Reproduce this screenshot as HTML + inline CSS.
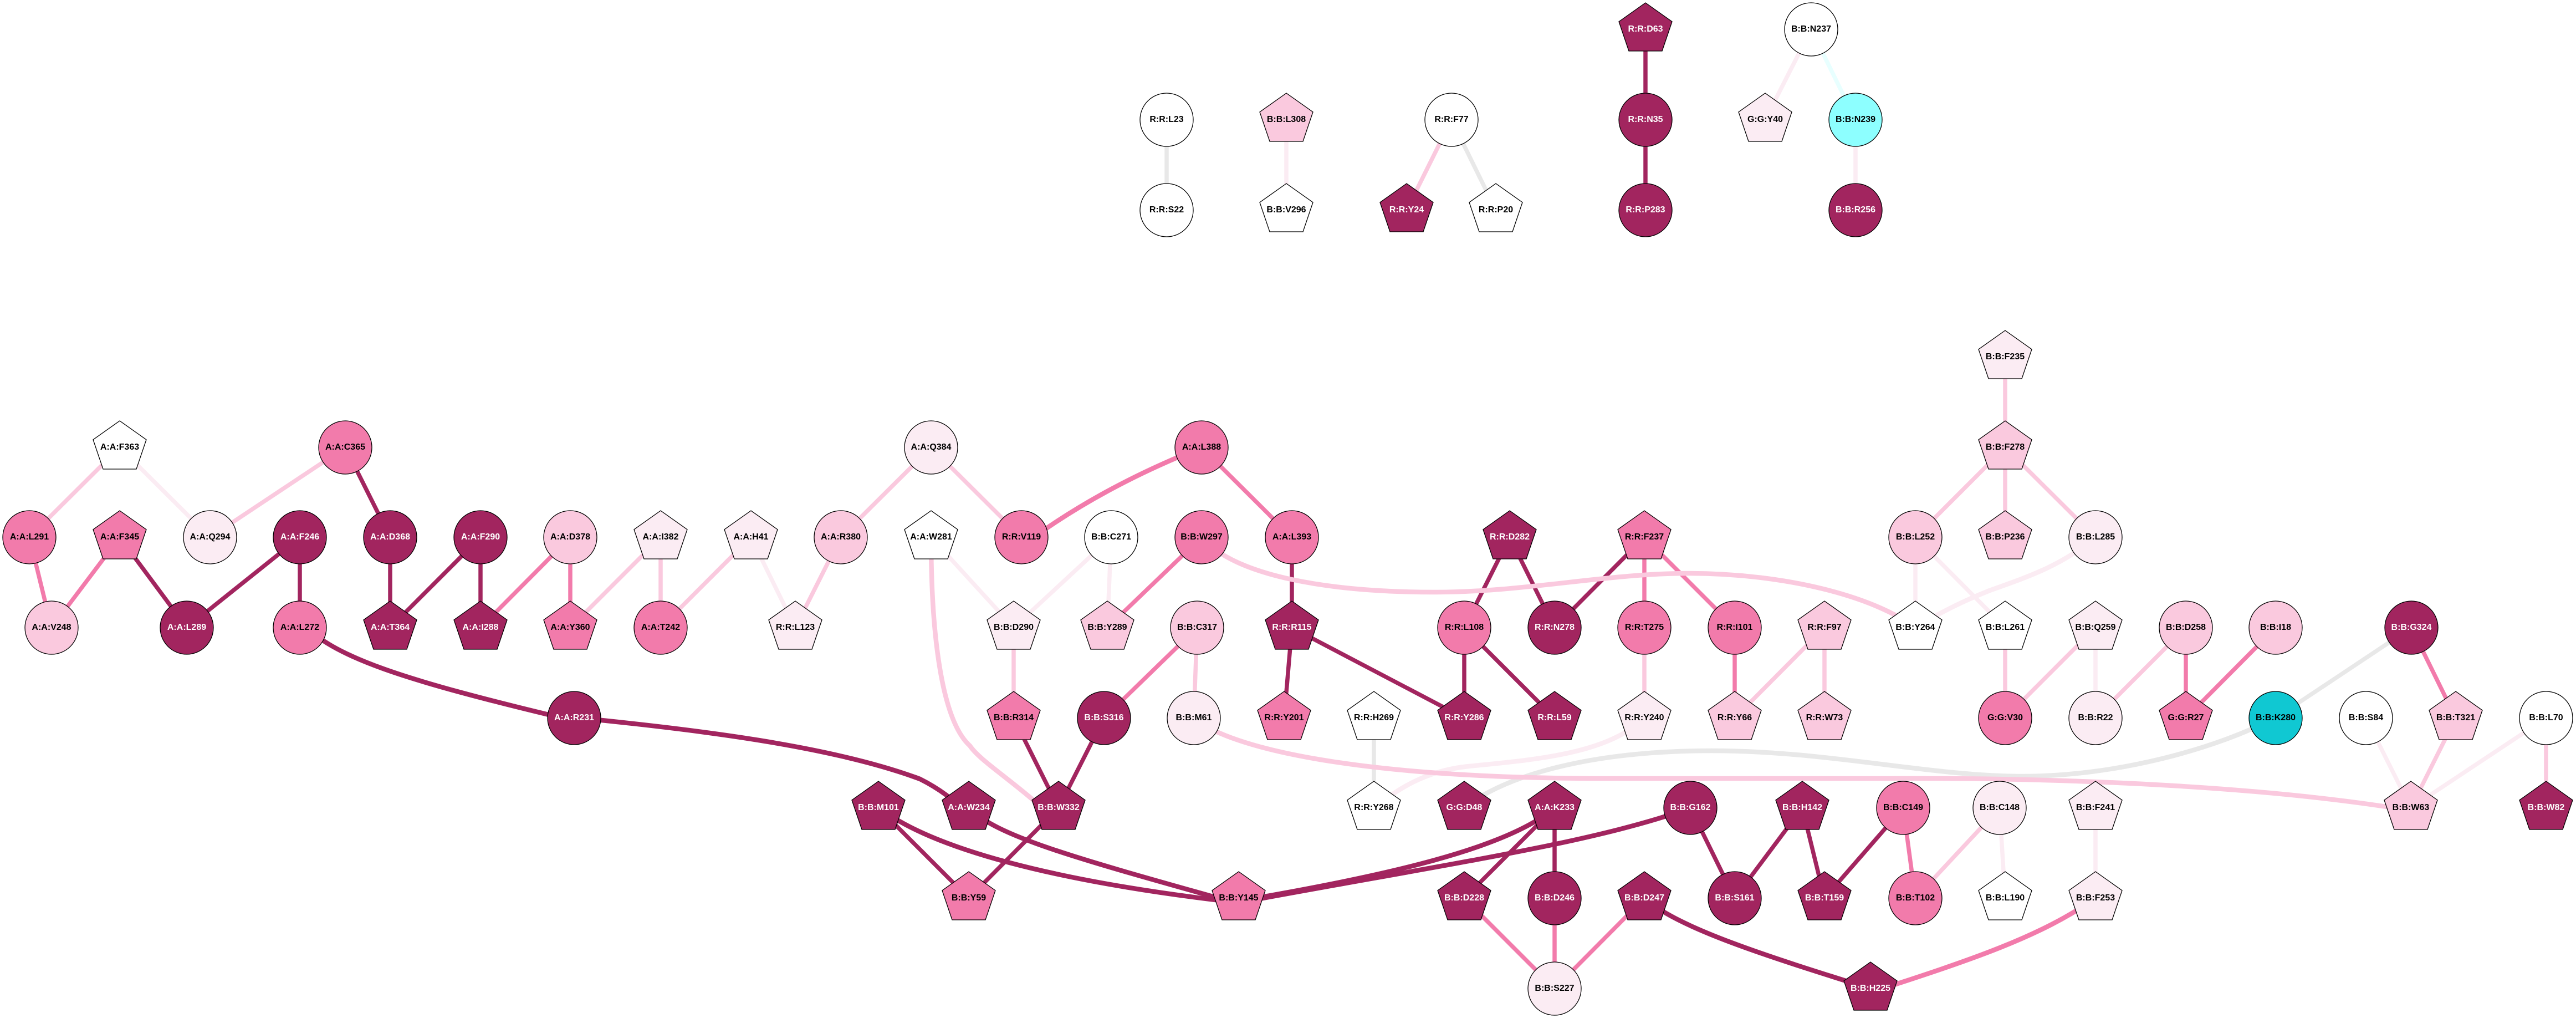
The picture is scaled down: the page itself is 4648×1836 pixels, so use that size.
<!DOCTYPE html>
<html><head><meta charset="utf-8"><style>
html,body{margin:0;padding:0;background:#fff}
svg{display:block}
path{fill:none;stroke-width:7.5}
path[d*="C"]{stroke-width:8.5}
.d{stroke:#a2255f}.m{stroke:#f27bab}.l{stroke:#fac9de}.v{stroke:#fbecf3}.g{stroke:#e8e8e8}.c{stroke:#e8ffff}
use{stroke:#000;stroke-width:1.3}
text{font:bold 16px "Liberation Sans",Arial,sans-serif;text-anchor:middle;fill:#000}
text.w{fill:#fff}
</style></head><body>
<svg width="4648" height="1836" viewBox="0 0 4648 1836" xmlns="http://www.w3.org/2000/svg">
<defs>
<polygon id="p" points="0,-48 48,-14 30,39 -30,39 -48,-14"/>
<circle id="e" r="48"/>
</defs>
<rect width="4648" height="1836" fill="#fff"/>
<!-- edges -->
<path class="g" d="M2105 216L2105 379"/>
<path class="v" d="M2321 216L2321 379"/>
<path class="l" d="M2619 216L2538 379"/>
<path class="g" d="M2619 216L2699 379"/>
<path class="d" d="M2969 53L2969 216"/>
<path class="d" d="M2969 216L2969 379"/>
<path class="v" d="M3268 53L3185 216"/>
<path class="c" d="M3268 53L3348 216"/>
<path class="v" d="M3348 216L3348 379"/>
<path class="l" d="M216 807L53 969"/>
<path class="v" d="M216 807L379 969"/>
<path class="l" d="M623 807L379 969"/>
<path class="d" d="M623 807L704 969"/>
<path class="m" d="M53 969L93 1132"/>
<path class="m" d="M216 969L93 1132"/>
<path class="d" d="M216 969L337 1132"/>
<path class="d" d="M541 969L337 1132"/>
<path class="d" d="M541 969L541 1132"/>
<path class="d" d="M704 969L704 1132"/>
<path class="d" d="M867 969L704 1132"/>
<path class="d" d="M867 969L867 1132"/>
<path class="m" d="M1029 969L867 1132"/>
<path class="m" d="M1029 969L1029 1132"/>
<path class="l" d="M1192 969L1029 1132"/>
<path class="l" d="M1192 969L1192 1132"/>
<path class="l" d="M1355 969L1192 1132"/>
<path class="v" d="M1355 969L1435 1132"/>
<path class="l" d="M1517 969L1435 1132"/>
<path class="l" d="M1680 807L1517 969"/>
<path class="l" d="M1680 807L1843 969"/>
<path class="m" d="M2168 807C2060 850 1950 905 1843 985"/>
<path class="m" d="M2168 807L2331 969"/>
<path class="d" d="M2331 969L2331 1132"/>
<path class="v" d="M1680 969L1829 1132"/>
<path class="v" d="M2005 969L1829 1132"/>
<path class="v" d="M2005 969L1998 1132"/>
<path class="m" d="M2168 969L1998 1132"/>
<path class="l" d="M1829 1132L1829 1295"/>
<path class="d" d="M1829 1295L1910 1457"/>
<path class="d" d="M1992 1295L1910 1457"/>
<path class="m" d="M2160 1132L1992 1295"/>
<path class="l" d="M2160 1132L2154 1295"/>
<path class="d" d="M2331 1132L2317 1295"/>
<path class="d" d="M2331 1132L2642 1295"/>
<path class="d" d="M2642 1132L2642 1295"/>
<path class="d" d="M2642 1132L2805 1295"/>
<path class="d" d="M2724 969L2642 1132"/>
<path class="d" d="M2724 969L2805 1132"/>
<path class="d" d="M2967 969L2805 1132"/>
<path class="m" d="M2967 969L2967 1132"/>
<path class="m" d="M2967 969L3130 1132"/>
<path class="l" d="M2967 1132L2967 1295"/>
<path class="m" d="M3130 1132L3130 1295"/>
<path class="l" d="M3292 1132L3130 1295"/>
<path class="l" d="M3292 1132L3292 1295"/>
<path class="g" d="M2479 1295L2479 1457"/>
<path class="v" d="M2967 1295C2900 1360 2770 1370 2650 1382C2570 1390 2520 1425 2479 1457"/>
<path class="l" d="M2168 969C2230 1040 2400 1068 2590 1068C2750 1068 2900 1034 3046 1034C3220 1034 3380 1075 3456 1132"/>
<path class="v" d="M3456 969L3456 1132"/>
<path class="v" d="M3456 969L3618 1132"/>
<path class="l" d="M3618 807L3456 969"/>
<path class="l" d="M3618 807L3618 969"/>
<path class="l" d="M3618 807L3781 969"/>
<path class="l" d="M3618 644L3618 807"/>
<path class="v" d="M3781 969C3720 1020 3660 1040 3590 1065C3540 1085 3500 1105 3456 1132"/>
<path class="l" d="M3618 1132L3618 1295"/>
<path class="l" d="M3781 1132L3618 1295"/>
<path class="v" d="M3781 1132L3781 1295"/>
<path class="l" d="M3944 1132L3781 1295"/>
<path class="m" d="M3944 1132L3944 1295"/>
<path class="m" d="M4106 1132L3944 1295"/>
<path class="g" d="M4351 1132L4106 1295"/>
<path class="m" d="M4351 1132L4431 1295"/>
<path class="g" d="M2642 1457C2720 1395 2880 1354 3088 1354C3300 1354 3480 1400 3650 1400C3820 1400 4000 1350 4106 1294"/>
<path class="l" d="M4431 1295L4350 1457"/>
<path class="v" d="M4269 1295L4350 1457"/>
<path class="v" d="M4594 1295L4350 1457"/>
<path class="l" d="M4594 1295L4594 1457"/>
<path class="l" d="M2154 1295C2220 1350 2450 1404 2900 1404L3400 1404C3750 1402 4100 1420 4350 1462"/>
<path class="d" d="M541 1120C600 1185 720 1225 1036 1300"/>
<path class="d" d="M1036 1294C1250 1315 1500 1345 1660 1405C1690 1420 1720 1440 1748 1470"/>
<path class="d" d="M1748 1457C1800 1510 1950 1550 2235 1630"/>
<path class="d" d="M1585 1456C1680 1530 1900 1590 2235 1628"/>
<path class="d" d="M1585 1457L1748 1620"/>
<path class="d" d="M1910 1457L1748 1620"/>
<path class="l" d="M1680 969C1680 1150 1700 1300 1750 1345C1770 1375 1840 1415 1910 1485"/>
<path class="d" d="M3050 1457C2880 1520 2600 1560 2235 1628"/>
<path class="d" d="M2805 1457C2720 1530 2500 1580 2235 1625"/>
<path class="d" d="M2805 1457L2642 1620"/>
<path class="d" d="M2805 1457L2805 1620"/>
<path class="d" d="M3050 1457L3130 1620"/>
<path class="d" d="M3252 1457L3130 1620"/>
<path class="d" d="M3252 1457L3292 1620"/>
<path class="d" d="M3434 1457L3292 1620"/>
<path class="m" d="M3434 1457L3456 1620"/>
<path class="l" d="M3608 1457L3456 1620"/>
<path class="v" d="M3608 1457L3618 1620"/>
<path class="v" d="M3781 1457L3781 1620"/>
<path class="m" d="M3781 1620C3680 1690 3560 1730 3375 1790"/>
<path class="d" d="M2967 1620C3030 1675 3190 1725 3375 1783"/>
<path class="m" d="M2642 1620L2805 1783"/>
<path class="m" d="M2805 1620L2805 1783"/>
<path class="m" d="M2967 1620L2805 1783"/>
<!-- nodes -->
<use href="#e" x="2105" y="216" fill="#fff"/><text x="2105" y="220">R:R:L23</text>
<use href="#e" x="2105" y="379" fill="#fff"/><text x="2105" y="383">R:R:S22</text>
<use href="#p" x="2321" y="216" fill="#fac9de"/><text x="2321" y="220">B:B:L308</text>
<use href="#p" x="2321" y="379" fill="#fff"/><text x="2321" y="383">B:B:V296</text>
<use href="#e" x="2619" y="216" fill="#fff"/><text x="2619" y="220">R:R:F77</text>
<use href="#p" x="2538" y="379" fill="#a2255f"/><text class="w" x="2538" y="383">R:R:Y24</text>
<use href="#p" x="2699" y="379" fill="#fff"/><text x="2699" y="383">R:R:P20</text>
<use href="#p" x="2969" y="53" fill="#a2255f"/><text class="w" x="2969" y="57">R:R:D63</text>
<use href="#e" x="2969" y="216" fill="#a2255f"/><text class="w" x="2969" y="220">R:R:N35</text>
<use href="#e" x="2969" y="379" fill="#a2255f"/><text class="w" x="2969" y="383">R:R:P283</text>
<use href="#e" x="3268" y="53" fill="#fff"/><text x="3268" y="57">B:B:N237</text>
<use href="#p" x="3185" y="216" fill="#fbecf3"/><text x="3185" y="220">G:G:Y40</text>
<use href="#e" x="3348" y="216" fill="#8dffff"/><text x="3348" y="220">B:B:N239</text>
<use href="#e" x="3348" y="379" fill="#a2255f"/><text class="w" x="3348" y="383">B:B:R256</text>

<use href="#p" x="216" y="807" fill="#fff"/><text x="216" y="811">A:A:F363</text>
<use href="#e" x="623" y="807" fill="#f27bab"/><text x="623" y="811">A:A:C365</text>
<use href="#e" x="1680" y="807" fill="#fbecf3"/><text x="1680" y="811">A:A:Q384</text>
<use href="#e" x="2168" y="807" fill="#f27bab"/><text x="2168" y="811">A:A:L388</text>
<use href="#p" x="3618" y="644" fill="#fbecf3"/><text x="3618" y="648">B:B:F235</text>
<use href="#p" x="3618" y="807" fill="#fac9de"/><text x="3618" y="811">B:B:F278</text>

<use href="#e" x="53" y="969" fill="#f27bab"/><text x="53" y="973">A:A:L291</text>
<use href="#p" x="216" y="969" fill="#f27bab"/><text x="216" y="973">A:A:F345</text>
<use href="#e" x="379" y="969" fill="#fbecf3"/><text x="379" y="973">A:A:Q294</text>
<use href="#e" x="541" y="969" fill="#a2255f"/><text class="w" x="541" y="973">A:A:F246</text>
<use href="#e" x="704" y="969" fill="#a2255f"/><text class="w" x="704" y="973">A:A:D368</text>
<use href="#e" x="867" y="969" fill="#a2255f"/><text class="w" x="867" y="973">A:A:F290</text>
<use href="#e" x="1029" y="969" fill="#fac9de"/><text x="1029" y="973">A:A:D378</text>
<use href="#p" x="1192" y="969" fill="#fbecf3"/><text x="1192" y="973">A:A:I382</text>
<use href="#p" x="1355" y="969" fill="#fbecf3"/><text x="1355" y="973">A:A:H41</text>
<use href="#e" x="1517" y="969" fill="#fac9de"/><text x="1517" y="973">A:A:R380</text>
<use href="#p" x="1680" y="969" fill="#fff"/><text x="1680" y="973">A:A:W281</text>
<use href="#e" x="1843" y="969" fill="#f27bab"/><text x="1843" y="973">R:R:V119</text>
<use href="#e" x="2005" y="969" fill="#fff"/><text x="2005" y="973">B:B:C271</text>
<use href="#e" x="2168" y="969" fill="#f27bab"/><text x="2168" y="973">B:B:W297</text>
<use href="#e" x="2331" y="969" fill="#f27bab"/><text x="2331" y="973">A:A:L393</text>
<use href="#p" x="2724" y="969" fill="#a2255f"/><text class="w" x="2724" y="973">R:R:D282</text>
<use href="#p" x="2967" y="969" fill="#f27bab"/><text x="2967" y="973">R:R:F237</text>
<use href="#e" x="3456" y="969" fill="#fac9de"/><text x="3456" y="973">B:B:L252</text>
<use href="#p" x="3618" y="969" fill="#fac9de"/><text x="3618" y="973">B:B:P236</text>
<use href="#e" x="3781" y="969" fill="#fbecf3"/><text x="3781" y="973">B:B:L285</text>

<use href="#e" x="93" y="1132" fill="#fac9de"/><text x="93" y="1136">A:A:V248</text>
<use href="#e" x="337" y="1132" fill="#a2255f"/><text class="w" x="337" y="1136">A:A:L289</text>
<use href="#e" x="541" y="1132" fill="#f27bab"/><text x="541" y="1136">A:A:L272</text>
<use href="#p" x="704" y="1132" fill="#a2255f"/><text class="w" x="704" y="1136">A:A:T364</text>
<use href="#p" x="867" y="1132" fill="#a2255f"/><text class="w" x="867" y="1136">A:A:I288</text>
<use href="#p" x="1029" y="1132" fill="#f27bab"/><text x="1029" y="1136">A:A:Y360</text>
<use href="#e" x="1192" y="1132" fill="#f27bab"/><text x="1192" y="1136">A:A:T242</text>
<use href="#p" x="1435" y="1132" fill="#fbecf3"/><text x="1435" y="1136">R:R:L123</text>
<use href="#p" x="1829" y="1132" fill="#fbecf3"/><text x="1829" y="1136">B:B:D290</text>
<use href="#p" x="1998" y="1132" fill="#fac9de"/><text x="1998" y="1136">B:B:Y289</text>
<use href="#e" x="2160" y="1132" fill="#fac9de"/><text x="2160" y="1136">B:B:C317</text>
<use href="#p" x="2331" y="1132" fill="#a2255f"/><text class="w" x="2331" y="1136">R:R:R115</text>
<use href="#e" x="2642" y="1132" fill="#f27bab"/><text x="2642" y="1136">R:R:L108</text>
<use href="#e" x="2805" y="1132" fill="#a2255f"/><text class="w" x="2805" y="1136">R:R:N278</text>
<use href="#e" x="2967" y="1132" fill="#f27bab"/><text x="2967" y="1136">R:R:T275</text>
<use href="#e" x="3130" y="1132" fill="#f27bab"/><text x="3130" y="1136">R:R:I101</text>
<use href="#p" x="3292" y="1132" fill="#fac9de"/><text x="3292" y="1136">R:R:F97</text>
<use href="#p" x="3456" y="1132" fill="#fff"/><text x="3456" y="1136">B:B:Y264</text>
<use href="#p" x="3618" y="1132" fill="#fff"/><text x="3618" y="1136">B:B:L261</text>
<use href="#p" x="3781" y="1132" fill="#fbecf3"/><text x="3781" y="1136">B:B:Q259</text>
<use href="#e" x="3944" y="1132" fill="#fac9de"/><text x="3944" y="1136">B:B:D258</text>
<use href="#e" x="4106" y="1132" fill="#fac9de"/><text x="4106" y="1136">B:B:I18</text>
<use href="#e" x="4351" y="1132" fill="#a2255f"/><text class="w" x="4351" y="1136">B:B:G324</text>

<use href="#e" x="1036" y="1295" fill="#a2255f"/><text class="w" x="1036" y="1299">A:A:R231</text>
<use href="#p" x="1829" y="1295" fill="#f27bab"/><text x="1829" y="1299">B:B:R314</text>
<use href="#e" x="1992" y="1295" fill="#a2255f"/><text class="w" x="1992" y="1299">B:B:S316</text>
<use href="#e" x="2154" y="1295" fill="#fbecf3"/><text x="2154" y="1299">B:B:M61</text>
<use href="#p" x="2317" y="1295" fill="#f27bab"/><text x="2317" y="1299">R:R:Y201</text>
<use href="#p" x="2479" y="1295" fill="#fff"/><text x="2479" y="1299">R:R:H269</text>
<use href="#p" x="2642" y="1295" fill="#a2255f"/><text class="w" x="2642" y="1299">R:R:Y286</text>
<use href="#p" x="2805" y="1295" fill="#a2255f"/><text class="w" x="2805" y="1299">R:R:L59</text>
<use href="#p" x="2967" y="1295" fill="#fbecf3"/><text x="2967" y="1299">R:R:Y240</text>
<use href="#p" x="3130" y="1295" fill="#fac9de"/><text x="3130" y="1299">R:R:Y66</text>
<use href="#p" x="3292" y="1295" fill="#fac9de"/><text x="3292" y="1299">R:R:W73</text>
<use href="#e" x="3618" y="1295" fill="#f27bab"/><text x="3618" y="1299">G:G:V30</text>
<use href="#e" x="3781" y="1295" fill="#fbecf3"/><text x="3781" y="1299">B:B:R22</text>
<use href="#p" x="3944" y="1295" fill="#f27bab"/><text x="3944" y="1299">G:G:R27</text>
<use href="#e" x="4106" y="1295" fill="#10c8d2"/><text x="4106" y="1299">B:B:K280</text>
<use href="#e" x="4269" y="1295" fill="#fff"/><text x="4269" y="1299">B:B:S84</text>
<use href="#p" x="4431" y="1295" fill="#fac9de"/><text x="4431" y="1299">B:B:T321</text>
<use href="#e" x="4594" y="1295" fill="#fff"/><text x="4594" y="1299">B:B:L70</text>

<use href="#p" x="1585" y="1457" fill="#a2255f"/><text class="w" x="1585" y="1461">B:B:M101</text>
<use href="#p" x="1748" y="1457" fill="#a2255f"/><text class="w" x="1748" y="1461">A:A:W234</text>
<use href="#p" x="1910" y="1457" fill="#a2255f"/><text class="w" x="1910" y="1461">B:B:W332</text>
<use href="#p" x="2479" y="1457" fill="#fff"/><text x="2479" y="1461">R:R:Y268</text>
<use href="#p" x="2642" y="1457" fill="#a2255f"/><text class="w" x="2642" y="1461">G:G:D48</text>
<use href="#p" x="2805" y="1457" fill="#a2255f"/><text class="w" x="2805" y="1461">A:A:K233</text>
<use href="#e" x="3050" y="1457" fill="#a2255f"/><text class="w" x="3050" y="1461">B:B:G162</text>
<use href="#p" x="3252" y="1457" fill="#a2255f"/><text class="w" x="3252" y="1461">B:B:H142</text>
<use href="#e" x="3434" y="1457" fill="#f27bab"/><text x="3434" y="1461">B:B:C149</text>
<use href="#e" x="3608" y="1457" fill="#fbecf3"/><text x="3608" y="1461">B:B:C148</text>
<use href="#p" x="3781" y="1457" fill="#fbecf3"/><text x="3781" y="1461">B:B:F241</text>
<use href="#p" x="4350" y="1457" fill="#fac9de"/><text x="4350" y="1461">B:B:W63</text>
<use href="#p" x="4594" y="1457" fill="#a2255f"/><text class="w" x="4594" y="1461">B:B:W82</text>

<use href="#p" x="1748" y="1620" fill="#f27bab"/><text x="1748" y="1624">B:B:Y59</text>
<use href="#p" x="2235" y="1620" fill="#f27bab"/><text x="2235" y="1624">B:B:Y145</text>
<use href="#p" x="2642" y="1620" fill="#a2255f"/><text class="w" x="2642" y="1624">B:B:D228</text>
<use href="#e" x="2805" y="1620" fill="#a2255f"/><text class="w" x="2805" y="1624">B:B:D246</text>
<use href="#p" x="2967" y="1620" fill="#a2255f"/><text class="w" x="2967" y="1624">B:B:D247</text>
<use href="#e" x="3130" y="1620" fill="#a2255f"/><text class="w" x="3130" y="1624">B:B:S161</text>
<use href="#p" x="3292" y="1620" fill="#a2255f"/><text class="w" x="3292" y="1624">B:B:T159</text>
<use href="#e" x="3456" y="1620" fill="#f27bab"/><text x="3456" y="1624">B:B:T102</text>
<use href="#p" x="3618" y="1620" fill="#fff"/><text x="3618" y="1624">B:B:L190</text>
<use href="#p" x="3781" y="1620" fill="#fbecf3"/><text x="3781" y="1624">B:B:F253</text>

<use href="#e" x="2805" y="1783" fill="#fbecf3"/><text x="2805" y="1787">B:B:S227</text>
<use href="#p" x="3375" y="1783" fill="#a2255f"/><text class="w" x="3375" y="1787">B:B:H225</text>
</svg>
</body></html>
